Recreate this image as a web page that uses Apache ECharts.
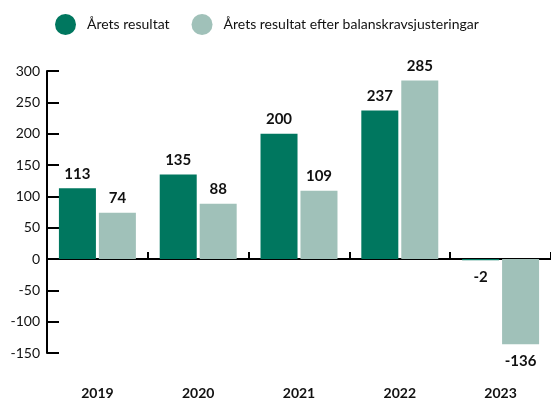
<!DOCTYPE html>
<html>
<head>
<meta charset="utf-8">
<script src="https://cdn.jsdelivr.net/npm/echarts@6/dist/echarts.min.js"></script>
<style>html,body{margin:0;padding:0;background:#fff;}#c{width:551px;height:401px;}</style>
</head>
<body>
<div id="c"></div>
<script>
const categories = ['2019', '2020', '2021', '2022', '2023'];
const seriesNames = ['Årets resultat', 'Årets resultat efter balanskravsjusteringar'];
const resultValues = [113, 135, 200, 237, -2];
const adjustedValues = [74, 88, 109, 285, -136];
const yTicks = { min: -150, max: 300, interval: 50 };

const colors = ['#00775f', '#a0c1b9'];
const FONT = 'Lato';

function toData(values) {
  return values.map(v => ({
    value: v,
    label: v < 0 ? { position: 'bottom', distance: 9 } : { position: 'top', distance: 7 }
  }));
}

const chart = echarts.init(document.getElementById('c'), null, { renderer: 'canvas' });
chart.setOption({
  animation: false,
  color: colors,
  textStyle: { fontFamily: FONT },
  legend: {
    top: 9,
    left: 50,
    icon: 'circle',
    itemWidth: 21,
    itemHeight: 21,
    itemGap: 22,
    textStyle: { fontFamily: FONT, fontSize: 14, color: '#111', padding: [0, 0, 0, 6] },
    data: seriesNames
  },
  grid: { left: 47, top: 71, width: 505, height: 282, containLabel: false },
  xAxis: [
    {
      type: 'category',
      data: categories,
      position: 'bottom',
      axisLine: { show: false, onZero: false },
      axisTick: { show: false },
      axisLabel: { margin: 33, fontFamily: FONT, fontSize: 14, fontWeight: 'bold', color: '#111' }
    },
    {
      type: 'category',
      data: categories,
      position: 'bottom',
      axisLine: { show: true, onZero: true, lineStyle: { color: '#000', width: 2 } },
      axisTick: { show: true, inside: true, length: 7, lineStyle: { color: '#000', width: 2 } },
      axisLabel: { show: false }
    }
  ],
  yAxis: {
    type: 'value',
    min: yTicks.min,
    max: yTicks.max,
    interval: yTicks.interval,
    splitLine: { show: false },
    axisLine: { show: true, lineStyle: { color: '#000', width: 2 } },
    axisTick: { show: true, inside: true, length: 12, lineStyle: { color: '#000', width: 2 } },
    axisLabel: { margin: 7, fontFamily: FONT, fontSize: 14, color: '#111' }
  },
  series: [
    {
      name: seriesNames[0],
      type: 'bar',
      xAxisIndex: 0,
      data: toData(resultValues),
      barWidth: 37,
      barGap: '8%',
      label: { show: true, fontFamily: FONT, fontSize: 15, fontWeight: 'bold', color: '#111' }
    },
    {
      name: seriesNames[1],
      type: 'bar',
      xAxisIndex: 0,
      data: toData(adjustedValues),
      barWidth: 37,
      barGap: '8%',
      label: { show: true, fontFamily: FONT, fontSize: 15, fontWeight: 'bold', color: '#111' }
    }
  ]
});
</script>
</body>
</html>
